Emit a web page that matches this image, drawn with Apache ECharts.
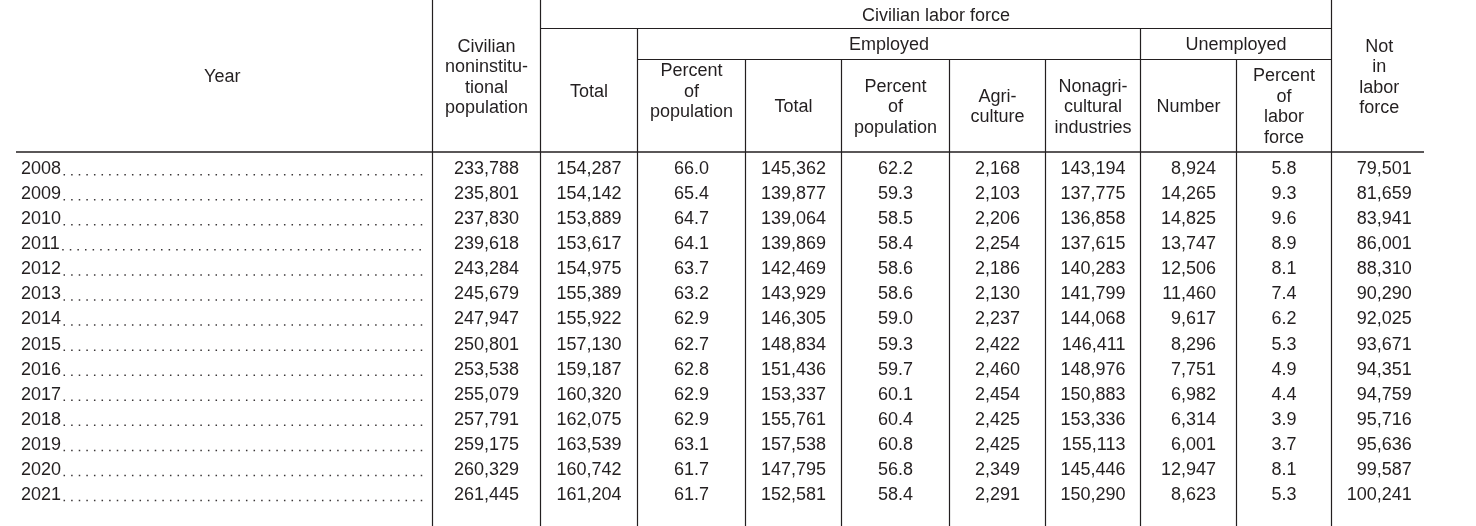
<!DOCTYPE html>
<html><head><meta charset="utf-8">
<script src="https://cdn.jsdelivr.net/npm/echarts@6/dist/echarts.min.js"></script>
<style>html,body{margin:0;padding:0;background:#fff}#c{width:1476px;height:526px}</style>
</head><body><div id="c"></div>
<script>
// ---------- data ----------
const years = [2008,2009,2010,2011,2012,2013,2014,2015,2016,2017,2018,2019,2020,2021];
const civPopulation = [233788,235801,237830,239618,243284,245679,247947,250801,253538,255079,257791,259175,260329,261445];
const laborTotal = [154287,154142,153889,153617,154975,155389,155922,157130,159187,160320,162075,163539,160742,161204];
const laborPct = [66.0,65.4,64.7,64.1,63.7,63.2,62.9,62.7,62.8,62.9,62.9,63.1,61.7,61.7];
const empTotal = [145362,139877,139064,139869,142469,143929,146305,148834,151436,153337,155761,157538,147795,152581];
const empPct = [62.2,59.3,58.5,58.4,58.6,58.6,59.0,59.3,59.7,60.1,60.4,60.8,56.8,58.4];
const agriculture = [2168,2103,2206,2254,2186,2130,2237,2422,2460,2454,2425,2425,2349,2291];
const nonAgriculture = [143194,137775,136858,137615,140283,141799,144068,146411,148976,150883,153336,155113,145446,150290];
const unempNumber = [8924,14265,14825,13747,12506,11460,9617,8296,7751,6982,6314,6001,12947,8623];
const unempPct = [5.8,9.3,9.6,8.9,8.1,7.4,6.2,5.3,4.9,4.4,3.9,3.7,8.1,5.3];
const notInLabor = [79501,81659,83941,86001,88310,90290,92025,93671,94351,94759,95716,95636,99587,100241];

const headYear = 'Year';
const headCivPop = 'Civilian\nnoninstitu-\ntional\npopulation';
const headCLF = 'Civilian labor force';
const headEmployed = 'Employed';
const headUnemployed = 'Unemployed';
const headLaborTotal = 'Total';
const headLaborPct = 'Percent\nof\npopulation';
const headEmpTotal = 'Total';
const headEmpPct = 'Percent\nof\npopulation';
const headAgri = 'Agri-\nculture';
const headNonAgri = 'Nonagri-\ncultural\nindustries';
const headUnempNum = 'Number';
const headUnempPct = 'Percent\nof\nlabor\nforce';
const headNotIn = 'Not\nin\nlabor\nforce';

// ---------- layout ----------
const W = 1476, H = 526;
const FONT_SIZE = 18;
const FONT = FONT_SIZE + 'px "Liberation Sans", Arial, Helvetica, sans-serif';
const INK = '#231f20';
const LINE_H = 20.5;
const edges = [16, 432.5, 540.5, 637.5, 745.5, 841.5, 949.5, 1045.5, 1140.5, 1236.5, 1331.5, 1427];
const headBottom = 152;
const lvl1 = 28.5, lvl2 = 59.5;
const HEAD_DY = 1.5, ROW_DY = 1;

const fmtInt = v => v.toLocaleString('en-US');
const fmtPct = v => v.toFixed(1);
const columns = [
  {vals: civPopulation, fmt: fmtInt},
  {vals: laborTotal, fmt: fmtInt},
  {vals: laborPct, fmt: fmtPct},
  {vals: empTotal, fmt: fmtInt},
  {vals: empPct, fmt: fmtPct},
  {vals: agriculture, fmt: fmtInt},
  {vals: nonAgriculture, fmt: fmtInt},
  {vals: unempNumber, fmt: fmtInt},
  {vals: unempPct, fmt: fmtPct},
  {vals: notInLabor, fmt: fmtInt}
];

const ctx = document.createElement('canvas').getContext('2d');
ctx.font = FONT;
const tw = s => ctx.measureText(s).width;

const colRight = columns.map((col, c) => {
  const center = (edges[c + 1] + edges[c + 2]) / 2;
  const maxW = Math.max(...col.vals.map(v => tw(col.fmt(v))));
  return center + maxW / 2;
});

const series = [];
series.push({
  type: 'custom', coordinateSystem: 'cartesian2d', silent: true, clip: false,
  data: years.map((y, i) => [0, i]),
  renderItem: (params, api) => {
    const i = api.value(1);
    const p = api.coord([21, i]);
    const label = String(years[i]);
    const x0 = p[0] + tw(label) + 2.5;
    const yy = p[1] + ROW_DY;
    return {
      type: 'group',
      children: [
        {type: 'text', x: p[0], y: yy, style: {text: label, font: FONT, fill: INK, align: 'left', verticalAlign: 'middle'}},
        {type: 'line', shape: {x1: x0, y1: yy + 5.6, x2: 426, y2: yy + 5.6},
         style: {stroke: '#3a3637', lineWidth: 1.5, lineDash: [1.5, 6.1]}}
      ]
    };
  }
});
columns.forEach((col, c) => {
  series.push({
    type: 'custom', coordinateSystem: 'cartesian2d', silent: true, clip: false,
    data: col.vals.map((v, i) => [0, i]),
    renderItem: (params, api) => {
      const i = api.value(1);
      const p = api.coord([colRight[c], i]);
      return {type: 'text', x: p[0], y: p[1] + ROW_DY,
        style: {text: col.fmt(col.vals[i]), font: FONT, fill: INK, align: 'right', verticalAlign: 'middle'}};
    }
  });
});

const g = [];
const vline = (x, y1, y2) => g.push({type: 'line', silent: true, shape: {x1: x, y1: y1, x2: x, y2: y2}, style: {stroke: INK, lineWidth: 1.2}});
const hline = (x1, x2, y, w) => g.push({type: 'line', silent: true, shape: {x1: x1, y1: y, x2: x2, y2: y}, style: {stroke: INK, lineWidth: w || 1.2}});
const label = (text, x1, x2, y1, y2) => g.push({type: 'text', silent: true, x: (x1 + x2) / 2, y: (y1 + y2) / 2 + HEAD_DY,
  style: {text: text, font: FONT, fill: INK, align: 'center', verticalAlign: 'middle', lineHeight: LINE_H}});

[edges[1], edges[2], edges[10]].forEach(x => vline(x, 0, H));
[edges[3], edges[8]].forEach(x => vline(x, lvl1, H));
[edges[4], edges[5], edges[6], edges[7], edges[9]].forEach(x => vline(x, lvl2, H));
hline(edges[2], edges[10], lvl1);
hline(edges[3], edges[10], lvl2);
hline(16, 1424, headBottom, 1.6);

label(headYear, edges[0] - 4, edges[1], 0, headBottom);
label(headCivPop, edges[1], edges[2], 0, headBottom);
label(headCLF, edges[2], edges[10], 0, lvl1);
label(headEmployed, edges[3], edges[8], lvl1, lvl2);
label(headUnemployed, edges[8], edges[10], lvl1, lvl2);
label(headLaborTotal, edges[2], edges[3], lvl1, headBottom);
label(headLaborPct, edges[3], edges[4], lvl1, headBottom);
label(headEmpTotal, edges[4], edges[5], lvl2, headBottom);
label(headEmpPct, edges[5], edges[6], lvl2, headBottom);
label(headAgri, edges[6], edges[7], lvl2, headBottom);
label(headNonAgri, edges[7], edges[8], lvl2, headBottom);
label(headUnempNum, edges[8], edges[9], lvl2, headBottom);
label(headUnempPct, edges[9], edges[10], lvl2, headBottom);
label(headNotIn, edges[10], edges[11], 0, headBottom);

const chart = echarts.init(document.getElementById('c'), null, {renderer: 'canvas'});
chart.setOption({
  animation: false,
  backgroundColor: '#fff',
  grid: {left: 0, right: 0, top: 155.5, bottom: 19.5},
  xAxis: {type: 'value', min: 0, max: W, show: false},
  yAxis: {type: 'category', data: years, inverse: true, show: false},
  graphic: {elements: g},
  series: series
});
</script>
</body></html>
